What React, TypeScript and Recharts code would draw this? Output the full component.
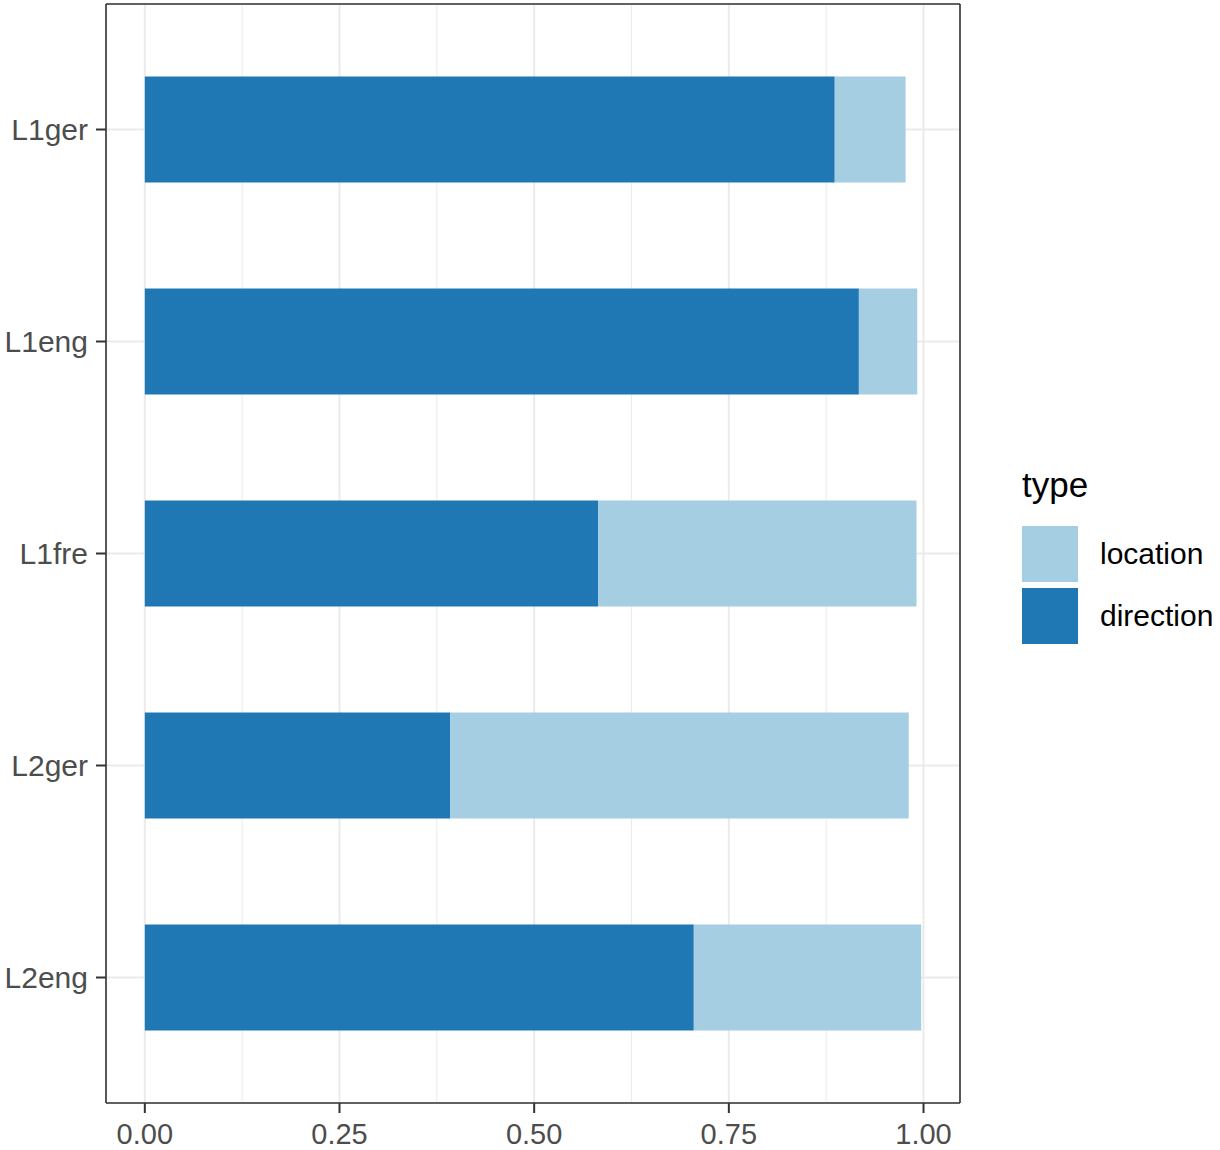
import React from "react";
import {
  BarChart,
  Bar,
  XAxis,
  YAxis,
  CartesianGrid,
} from "recharts";

const groups = ["L1ger", "L1eng", "L1fre", "L2ger", "L2eng"];
const direction = [0.886, 0.917, 0.582, 0.392, 0.705];
const location = [0.091, 0.075, 0.409, 0.589, 0.292];
const xTicks = [0, 0.25, 0.5, 0.75, 1];
const minorTicks = [0.125, 0.375, 0.625, 0.875];

const DIR_COLOR = "#1F78B4";
const LOC_COLOR = "#A6CEE3";
const FONT = "'Liberation Sans', Arial, Helvetica, sans-serif";
const BORDER = { stroke: "#333333", strokeWidth: 1.6 };

const data = groups.map((g, i) => ({
  group: g,
  direction: direction[i],
  location: location[i],
}));

// ggplot-style 5% expansion on the continuous axis
const maxTotal = Math.max(...data.map((d) => d.direction + d.location));
const xDomain = [-0.05 * maxTotal, maxTotal * 1.05];

function TypeLegend() {
  const items = [
    { label: "location", color: LOC_COLOR },
    { label: "direction", color: DIR_COLOR },
  ];
  return (
    <div style={{ position: "absolute", left: 1022, top: 465, fontFamily: FONT, color: "#000" }}>
      <div style={{ fontSize: 35, lineHeight: "40px", marginBottom: 18 }}>type</div>
      {items.map((it) => (
        <div key={it.label} style={{ display: "flex", alignItems: "center", height: 62 }}>
          <div style={{ width: 56, height: 56, background: it.color, marginRight: 22 }} />
          <span style={{ fontSize: 30 }}>{it.label}</span>
        </div>
      ))}
    </div>
  );
}

export default function App() {
  return (
    <div style={{ position: "absolute", left: 0, top: 0, width: 1220, height: 1150, background: "#fff" }}>
      <BarChart
        width={1220}
        height={1150}
        data={data}
        layout="vertical"
        margin={{ top: 3, right: 259, bottom: 0, left: 0 }}
      >
        {/* minor grid from a hidden axis, major grid from the visible one */}
        <CartesianGrid xAxisId="minor" horizontal={false} stroke="#EBEBEB" strokeWidth={1} />
        <CartesianGrid stroke="#EBEBEB" strokeWidth={2} />
        <XAxis
          xAxisId="minor"
          type="number"
          domain={xDomain}
          ticks={minorTicks}
          allowDataOverflow
          hide
        />
        {/* top + right axes only draw the panel border */}
        <XAxis
          xAxisId="top"
          orientation="top"
          type="number"
          domain={xDomain}
          allowDataOverflow
          height={1}
          tick={false}
          tickLine={false}
          axisLine={BORDER}
        />
        <YAxis
          yAxisId="right"
          orientation="right"
          type="category"
          dataKey="group"
          width={1}
          tick={false}
          tickLine={false}
          axisLine={BORDER}
        />
        <XAxis
          type="number"
          domain={xDomain}
          ticks={xTicks}
          allowDataOverflow
          tickFormatter={(v: number) => v.toFixed(2)}
          axisLine={BORDER}
          tickSize={10}
          tickMargin={10}
          tickLine={{ stroke: "#333333", strokeWidth: 2 }}
          tick={{ fill: "#4D4D4D", fontSize: 29, fontFamily: FONT }}
          height={47}
        />
        <YAxis
          type="category"
          dataKey="group"
          width={106}
          padding={{ top: 19.5, bottom: 19.5 }}
          axisLine={BORDER}
          tickSize={10}
          tickMargin={8}
          tickLine={{ stroke: "#333333", strokeWidth: 2 }}
          tick={{ fill: "#4D4D4D", fontSize: 30, fontFamily: FONT }}
        />
        <Bar dataKey="direction" stackId="a" fill={DIR_COLOR} barSize={106} isAnimationActive={false} />
        <Bar dataKey="location" stackId="a" fill={LOC_COLOR} barSize={106} isAnimationActive={false} />
      </BarChart>
      <TypeLegend />
    </div>
  );
}
